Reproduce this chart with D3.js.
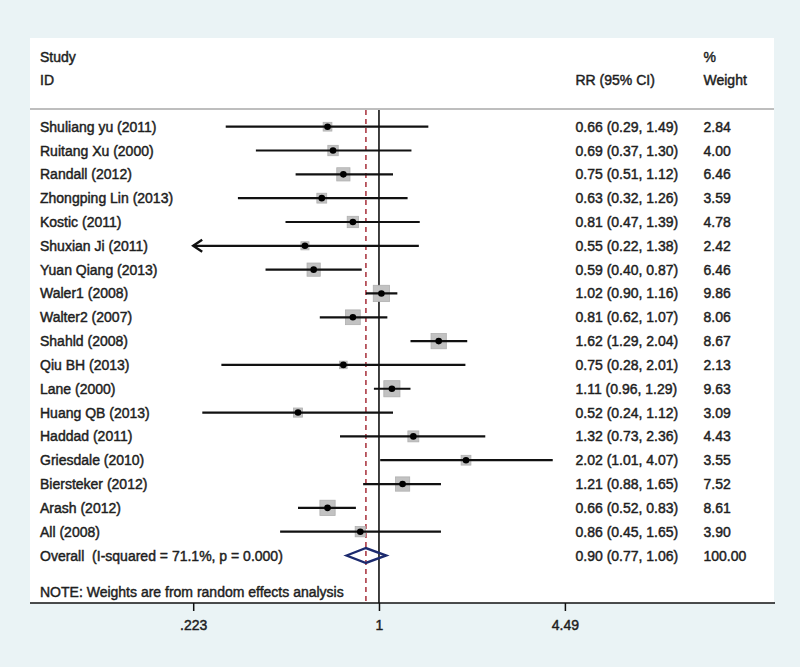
<!DOCTYPE html>
<html>
<head>
<meta charset="utf-8">
<script src="https://cdn.jsdelivr.net/npm/d3@7/dist/d3.min.js"></script>
<style>
  html, body { margin: 0; padding: 0; background: #eaf3f5; }
  svg { display: block; }
  text { font-family: "Liberation Sans", Arial, sans-serif; fill: #1e1e1e; stroke: #1e1e1e; stroke-width: 0.45px; }
</style>
</head>
<body>
<svg id="chart" width="800" height="667"></svg>
<script>
// ---- Data ----
const studies = ["Shuliang yu (2011)", "Ruitang Xu (2000)", "Randall (2012)", "Zhongping Lin (2013)",
  "Kostic (2011)", "Shuxian Ji (2011)", "Yuan Qiang (2013)", "Waler1 (2008)", "Walter2 (2007)",
  "Shahld (2008)", "Qiu BH (2013)", "Lane (2000)", "Huang QB (2013)", "Haddad (2011)",
  "Griesdale (2010)", "Biersteker (2012)", "Arash (2012)", "All (2008)"];
const rr      = [0.66, 0.69, 0.75, 0.63, 0.81, 0.55, 0.59, 1.02, 0.81, 1.62, 0.75, 1.11, 0.52, 1.32, 2.02, 1.21, 0.66, 0.86];
const lower   = [0.29, 0.37, 0.51, 0.32, 0.47, 0.22, 0.40, 0.90, 0.62, 1.29, 0.28, 0.96, 0.24, 0.73, 1.01, 0.88, 0.52, 0.45];
const upper   = [1.49, 1.30, 1.12, 1.26, 1.39, 1.38, 0.87, 1.16, 1.07, 2.04, 2.01, 1.29, 1.12, 2.36, 4.07, 1.65, 0.83, 1.65];
const weights = [2.84, 4.00, 6.46, 3.59, 4.78, 2.42, 6.46, 9.86, 8.06, 8.67, 2.13, 9.63, 3.09, 4.43, 3.55, 7.52, 8.61, 3.90];
const overallLabel = "Overall  (I-squared = 71.1%, p = 0.000)";
const overall = { rr: 0.90, lower: 0.77, upper: 1.06, weight: 100.00 };
const tickValues = [0.223, 1, 4.49];
const tickLabels = [".223", "1", "4.49"];
const noteText = "NOTE: Weights are from random effects analysis";

// ---- Layout ----
const svg = d3.select("#chart");
const panel = { left: 30, right: 774, top: 38, bottom: 603 };
const x = d3.scaleLog().domain([0.223, 4.49]).range([193.2, 564.9]);
const y = d3.scaleLinear().domain([0, 18]).range([126.7, 555.5]);
const colLabel = 40, colRR = 575.5, colW = 703.5;
const fs = 14;

svg.append("rect").attr("x", panel.left).attr("y", panel.top)
  .attr("width", panel.right - panel.left).attr("height", panel.bottom - panel.top)
  .attr("fill", "#ffffff");

// header
const hdr = svg.append("g");
hdr.append("text").attr("x", colLabel).attr("y", 62).attr("font-size", fs).text("Study");
hdr.append("text").attr("x", colLabel).attr("y", 85).attr("font-size", fs).text("ID");
hdr.append("text").attr("x", colRR).attr("y", 85).attr("font-size", fs).text("RR (95% CI)");
hdr.append("text").attr("x", colW).attr("y", 62).attr("font-size", fs).text("%");
hdr.append("text").attr("x", colW).attr("y", 85).attr("font-size", fs).text("Weight");
svg.append("line").attr("x1", panel.left).attr("x2", panel.right).attr("y1", 109).attr("y2", 109)
  .attr("stroke", "#a8a8a8").attr("stroke-width", 1.5);

// reference lines
svg.append("line").attr("x1", x(overall.rr)).attr("x2", x(overall.rr)).attr("y1", 110).attr("y2", panel.bottom)
  .attr("stroke", "#a01e2a").attr("stroke-width", 1.4).attr("stroke-dasharray", "5,4");
svg.append("line").attr("x1", x(1)).attr("x2", x(1)).attr("y1", 110).attr("y2", panel.bottom)
  .attr("stroke", "#111").attr("stroke-width", 1.6);

const rows = studies.map((s, i) => ({ s, i, rr: rr[i], lo: lower[i], hi: upper[i], w: weights[i] }));
const [dmin, dmax] = x.domain();

// boxes
svg.append("g").selectAll("rect").data(rows).join("rect")
  .attr("x", d => x(d.rr) - 2.6 * Math.sqrt(d.w))
  .attr("y", d => y(d.i) - 2.6 * Math.sqrt(d.w))
  .attr("width", d => 5.2 * Math.sqrt(d.w))
  .attr("height", d => 5.2 * Math.sqrt(d.w))
  .attr("fill", "#c2c2c2").attr("stroke", "#b0b0b0").attr("stroke-width", 0.8);

// CI lines
svg.append("g").selectAll("line").data(rows).join("line")
  .attr("x1", d => x(Math.max(d.lo, dmin))).attr("x2", d => x(Math.min(d.hi, dmax)))
  .attr("y1", d => y(d.i)).attr("y2", d => y(d.i))
  .attr("stroke", "#111").attr("stroke-width", 2.2);

// arrows for truncated CIs
svg.append("g").selectAll("path").data(rows.filter(d => d.lo < dmin)).join("path")
  .attr("d", d => { const ax = x(dmin), ay = y(d.i); return `M${ax + 9},${ay - 6} L${ax},${ay} L${ax + 9},${ay + 6}`; })
  .attr("fill", "none").attr("stroke", "#111").attr("stroke-width", 2.4);

// point estimates
svg.append("g").selectAll("circle").data(rows).join("circle")
  .attr("cx", d => x(d.rr)).attr("cy", d => y(d.i)).attr("r", 3.3).attr("fill", "#000");

// labels
svg.append("g").selectAll("text").data(rows).join("text")
  .attr("x", colLabel).attr("y", d => y(d.i) + 5).attr("font-size", fs).text(d => d.s);
svg.append("g").selectAll("text").data(rows).join("text")
  .attr("x", colRR).attr("y", d => y(d.i) + 5).attr("font-size", fs)
  .text(d => `${d.rr.toFixed(2)} (${d.lo.toFixed(2)}, ${d.hi.toFixed(2)})`);
svg.append("g").selectAll("text").data(rows).join("text")
  .attr("x", colW).attr("y", d => y(d.i) + 5).attr("font-size", fs).text(d => d.w.toFixed(2));

// overall
const oy = y(18);
svg.append("path")
  .attr("d", `M${x(overall.lower)},${oy} L${x(overall.rr)},${oy - 7.5} L${x(overall.upper)},${oy} L${x(overall.rr)},${oy + 7.5} Z`)
  .attr("fill", "none").attr("stroke", "#1c2a6e").attr("stroke-width", 2.4);
svg.append("text").attr("x", colLabel).attr("y", oy + 5).attr("font-size", fs)
  .style("white-space", "pre").attr("xml:space", "preserve").text(overallLabel);
svg.append("text").attr("x", colRR).attr("y", oy + 5).attr("font-size", fs)
  .text(`${overall.rr.toFixed(2)} (${overall.lower.toFixed(2)}, ${overall.upper.toFixed(2)})`);
svg.append("text").attr("x", colW).attr("y", oy + 5).attr("font-size", fs).text(overall.weight.toFixed(2));

svg.append("text").attr("x", colLabel).attr("y", 596.5).attr("font-size", fs).text(noteText);

// axis
const axis = d3.axisBottom(x).tickValues(tickValues).tickSize(8).tickPadding(9)
  .tickFormat((d, i) => tickLabels[i]);
const ag = svg.append("g").attr("transform", `translate(0,${panel.bottom})`).call(axis);
ag.select(".domain").remove();
ag.selectAll(".tick line").attr("stroke", "#111").attr("stroke-width", 1.5);
ag.selectAll(".tick text").attr("font-size", fs).attr("fill", "#1e1e1e")
  .attr("font-family", "Liberation Sans, Arial, sans-serif");
svg.append("line").attr("x1", panel.left).attr("x2", panel.right + 1).attr("y1", panel.bottom).attr("y2", panel.bottom)
  .attr("stroke", "#111").attr("stroke-width", 1.5);
</script>
</body>
</html>
